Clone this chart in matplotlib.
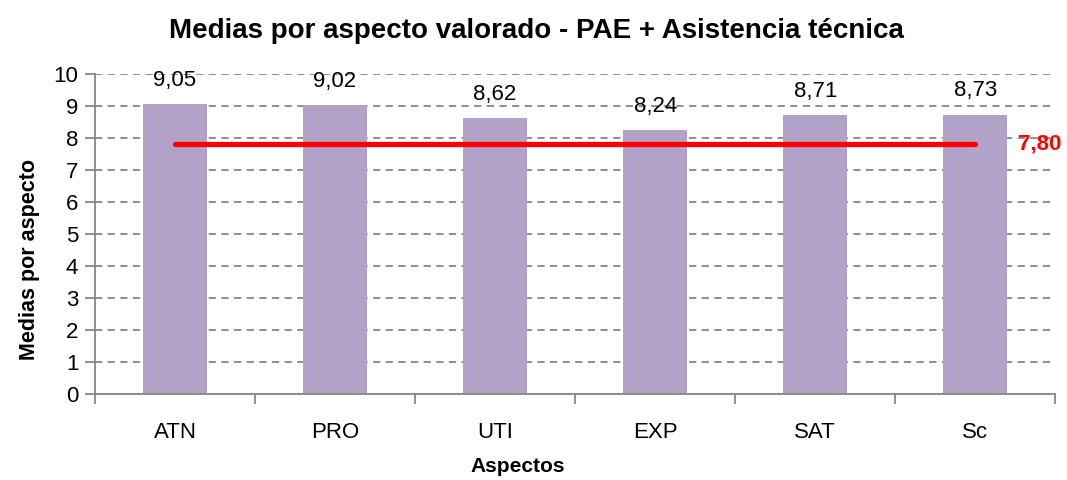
import numpy as np
import matplotlib
matplotlib.use('Agg')
import matplotlib.pyplot as plt

plt.rcParams['font.family'] = ['Liberation Sans Narrow', 'Liberation Sans', 'DejaVu Sans']

# Data
categories = ['ATN', 'PRO', 'UTI', 'EXP', 'SAT', 'Sc']
medias = [9.05, 9.02, 8.62, 8.24, 8.71, 8.73]
media_global = 7.80

GRAY = '#868686'

fig = plt.figure(figsize=(10.67, 4.8), dpi=100)
ax = fig.add_axes([0.089, 0.179, 0.9, 0.667])

x = np.arange(len(categories))
ax.bar(x, medias, width=0.4, color='#B3A2C7', zorder=2)

# Value labels above the bars
for xi, v in zip(x, medias):
    ax.text(xi, v + 0.42, ('%.2f' % v).replace('.', ','), ha='center', va='bottom',
            fontsize=16)

# Overall mean line
ax.plot([x[0], x[-1]], [media_global, media_global], color='#FF0000', lw=3.8,
        solid_capstyle='round', zorder=3)
ax.text(x[-1] + 0.27, media_global, ('%.2f' % media_global).replace('.', ','),
        color='#FF0000', fontsize=16, fontweight='bold', ha='left', va='center')

ax.set_xlim(-0.5, len(categories) - 0.5)
ax.set_ylim(0, 10)
ax.set_yticks(range(0, 11))
ax.set_xticks(x)
ax.set_xticklabels(categories)
ax.set_xticks(np.arange(-0.5, len(categories), 1), minor=True)

ax.yaxis.grid(True, linestyle=(0, (4, 3)), color=GRAY, lw=1.3, zorder=0)
ax.set_axisbelow(True)

for s in ['top', 'right']:
    ax.spines[s].set_visible(False)
for s in ['left', 'bottom']:
    ax.spines[s].set_color(GRAY)
    ax.spines[s].set_linewidth(1.3)

ax.tick_params(axis='y', which='major', length=7, color=GRAY, width=1.3, labelsize=16, pad=5)
ax.tick_params(axis='x', which='major', length=0, labelsize=16, pad=20)
ax.tick_params(axis='x', which='minor', length=7, color=GRAY, width=1.3)

ax.set_title('Medias por aspecto valorado - PAE + Asistencia técnica', fontsize=20,
             fontweight='bold', pad=26, x=0.46)
ax.set_xlabel('Aspectos', fontsize=15, fontweight='bold', labelpad=10, x=0.44)
ax.set_ylabel('Medias por aspecto', fontsize=15.5, fontweight='bold', labelpad=10, y=0.42)

plt.savefig('out.png', dpi=100)
